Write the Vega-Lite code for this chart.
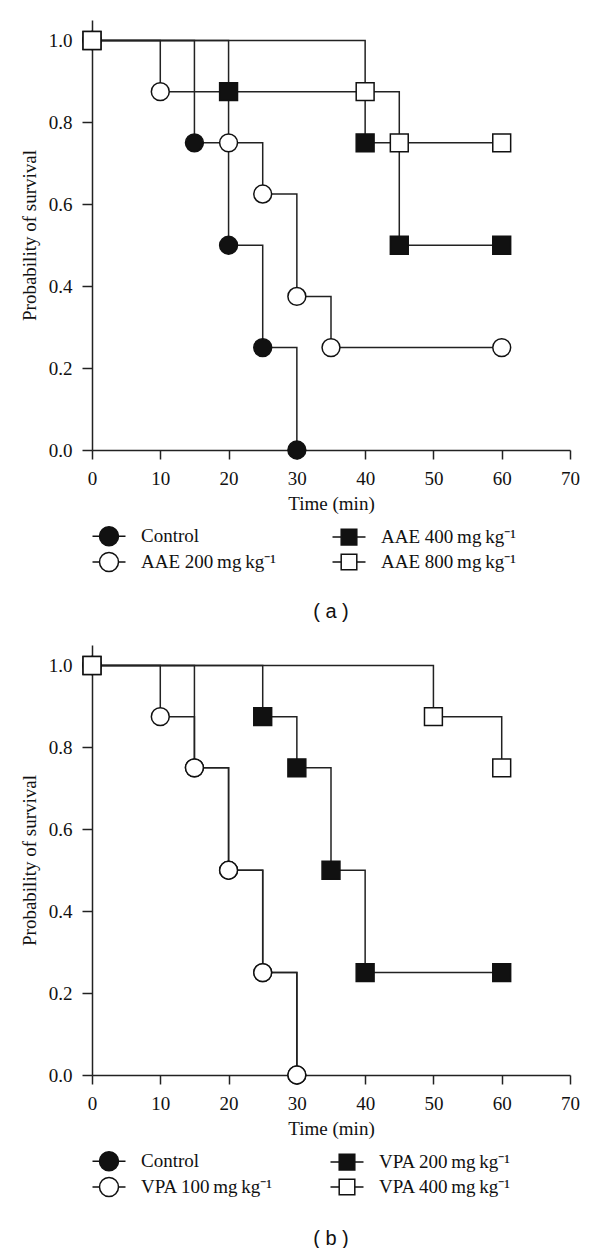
{
  "$schema": "https://vega.github.io/schema/vega-lite/v6.json",
  "background": "white",
  "padding": {"left": 20, "top": 20, "right": 10, "bottom": 0},
  "spacing": 23,
  "config": {
    "view": {"stroke": null},
    "font": "Liberation Serif",
    "axis": {
      "domainColor": "#222", "domainWidth": 1.5, "tickColor": "#222", "tickWidth": 1.5,
      "grid": false, "labelFont": "Liberation Serif", "labelFontSize": 19, "labelColor": "#111",
      "titleFont": "Liberation Serif", "titleFontSize": 19, "titleFontWeight": "normal", "titleColor": "#111",
      "labelPadding": 10, "labelFlush": false, "labelOverlap": false
    },
    "legend": {
      "orient": "bottom", "columns": 2, "direction": "horizontal",
      "labelFont": "Liberation Serif", "labelFontSize": 19, "labelColor": "#111", "labelLimit": 300,
      "labelOffset": 21, "columnPadding": 53, "rowPadding": 0, "symbolSize": 400,
      "symbolStrokeColor": "#111", "symbolStrokeWidth": 1.5, "symbolOpacity": 1,
      "offset": 6, "padding": 6
    },
    "title": {"font": "Liberation Sans", "fontSize": 20, "fontWeight": "normal", "color": "#111"}
  },
  "datasets": {
    "a": [
      {"group": "Control", "time": 0, "surv": 1},
      {"group": "Control", "time": 15, "surv": 0.75},
      {"group": "Control", "time": 20, "surv": 0.5},
      {"group": "Control", "time": 25, "surv": 0.25},
      {"group": "Control", "time": 30, "surv": 0},
      {"group": "AAE 200\u2009mg\u2009kg\u207b\u00b9", "time": 0, "surv": 1},
      {"group": "AAE 200\u2009mg\u2009kg\u207b\u00b9", "time": 10, "surv": 0.875},
      {"group": "AAE 200\u2009mg\u2009kg\u207b\u00b9", "time": 20, "surv": 0.75},
      {"group": "AAE 200\u2009mg\u2009kg\u207b\u00b9", "time": 25, "surv": 0.625},
      {"group": "AAE 200\u2009mg\u2009kg\u207b\u00b9", "time": 30, "surv": 0.375},
      {"group": "AAE 200\u2009mg\u2009kg\u207b\u00b9", "time": 35, "surv": 0.25},
      {"group": "AAE 200\u2009mg\u2009kg\u207b\u00b9", "time": 60, "surv": 0.25},
      {"group": "AAE 400\u2009mg\u2009kg\u207b\u00b9", "time": 0, "surv": 1},
      {"group": "AAE 400\u2009mg\u2009kg\u207b\u00b9", "time": 20, "surv": 0.875},
      {"group": "AAE 400\u2009mg\u2009kg\u207b\u00b9", "time": 40, "surv": 0.75},
      {"group": "AAE 400\u2009mg\u2009kg\u207b\u00b9", "time": 45, "surv": 0.5},
      {"group": "AAE 400\u2009mg\u2009kg\u207b\u00b9", "time": 60, "surv": 0.5},
      {"group": "AAE 800\u2009mg\u2009kg\u207b\u00b9", "time": 0, "surv": 1},
      {"group": "AAE 800\u2009mg\u2009kg\u207b\u00b9", "time": 40, "surv": 0.875},
      {"group": "AAE 800\u2009mg\u2009kg\u207b\u00b9", "time": 45, "surv": 0.75},
      {"group": "AAE 800\u2009mg\u2009kg\u207b\u00b9", "time": 60, "surv": 0.75}
    ],
    "b": [
      {"group": "Control", "time": 0, "surv": 1},
      {"group": "Control", "time": 15, "surv": 0.75},
      {"group": "Control", "time": 20, "surv": 0.5},
      {"group": "Control", "time": 25, "surv": 0.25},
      {"group": "Control", "time": 30, "surv": 0},
      {"group": "VPA 100\u2009mg\u2009kg\u207b\u00b9", "time": 0, "surv": 1},
      {"group": "VPA 100\u2009mg\u2009kg\u207b\u00b9", "time": 10, "surv": 0.875},
      {"group": "VPA 100\u2009mg\u2009kg\u207b\u00b9", "time": 15, "surv": 0.75},
      {"group": "VPA 100\u2009mg\u2009kg\u207b\u00b9", "time": 20, "surv": 0.5},
      {"group": "VPA 100\u2009mg\u2009kg\u207b\u00b9", "time": 25, "surv": 0.25},
      {"group": "VPA 100\u2009mg\u2009kg\u207b\u00b9", "time": 30, "surv": 0},
      {"group": "VPA 200\u2009mg\u2009kg\u207b\u00b9", "time": 0, "surv": 1},
      {"group": "VPA 200\u2009mg\u2009kg\u207b\u00b9", "time": 25, "surv": 0.875},
      {"group": "VPA 200\u2009mg\u2009kg\u207b\u00b9", "time": 30, "surv": 0.75},
      {"group": "VPA 200\u2009mg\u2009kg\u207b\u00b9", "time": 35, "surv": 0.5},
      {"group": "VPA 200\u2009mg\u2009kg\u207b\u00b9", "time": 40, "surv": 0.25},
      {"group": "VPA 200\u2009mg\u2009kg\u207b\u00b9", "time": 60, "surv": 0.25},
      {"group": "VPA 400\u2009mg\u2009kg\u207b\u00b9", "time": 0, "surv": 1},
      {"group": "VPA 400\u2009mg\u2009kg\u207b\u00b9", "time": 50, "surv": 0.875},
      {"group": "VPA 400\u2009mg\u2009kg\u207b\u00b9", "time": 60, "surv": 0.75}
    ]
  },
  "vconcat": [
    {
      "width": 478, "height": 430,
      "data": {"name": "a"},
      "title": {"text": "( a )", "orient": "bottom", "frame": "group", "anchor": "middle", "offset": 21},
      "resolve": {"scale": {"shape": "independent", "fill": "independent"}},
      "layer": [
        {
          "mark": {"type": "line", "interpolate": "step-after", "color": "#222", "strokeWidth": 1.5},
          "encoding": {
            "x": {"field": "time", "type": "quantitative", "scale": {"domain": [0, 70], "nice": false, "zero": false},
                  "axis": {"values": [0, 10, 20, 30, 40, 50, 60, 70], "tickSize": 9, "title": "Time (min)", "titlePadding": 6}},
            "y": {"field": "surv", "type": "quantitative", "scale": {"domain": [0, 1.05], "nice": false},
                  "axis": {"values": [0, 0.2, 0.4, 0.6, 0.8, 1], "format": ".1f", "tickSize": 10, "title": "Probability of survival", "titlePadding": 9}},
            "detail": {"field": "group"}
          }
        },
        {
          "mark": {"type": "point", "filled": true, "stroke": "#111", "strokeWidth": 1.5, "opacity": 1, "size": 320},
          "encoding": {
            "x": {"field": "time", "type": "quantitative"},
            "y": {"field": "surv", "type": "quantitative"},
            "shape": {"field": "group", "type": "nominal", "legend": null,
              "scale": {"domain": ["Control", "AAE 200\u2009mg\u2009kg\u207b\u00b9", "AAE 400\u2009mg\u2009kg\u207b\u00b9", "AAE 800\u2009mg\u2009kg\u207b\u00b9"], "range": ["circle", "circle", "square", "square"]}},
            "fill": {"field": "group", "type": "nominal", "legend": null,
              "scale": {"domain": ["Control", "AAE 200\u2009mg\u2009kg\u207b\u00b9", "AAE 400\u2009mg\u2009kg\u207b\u00b9", "AAE 800\u2009mg\u2009kg\u207b\u00b9"], "range": ["#111", "white", "#111", "white"]}}
          }
        },
        {
          "transform": [{"filter": "datum.time < 0"}],
          "mark": {"type": "point", "filled": true, "stroke": "#111", "strokeWidth": 1.5, "opacity": 1, "size": 400},
          "encoding": {
            "x": {"field": "time", "type": "quantitative"},
            "y": {"field": "surv", "type": "quantitative"},
            "shape": {"field": "group", "type": "nominal",
              "legend": {"title": null, "encode": {"symbols": {"update": {"stroke": {"value": "#111"}, "strokeWidth": {"value": 1.5}}}}},
              "scale": {"domain": ["Control", "AAE 400\u2009mg\u2009kg\u207b\u00b9", "AAE 200\u2009mg\u2009kg\u207b\u00b9", "AAE 800\u2009mg\u2009kg\u207b\u00b9"],
                        "range": ["M-1.65,0H-0.95M0.95,0H1.65M-0.95,0A0.95,0.95,0,1,1,0.95,0A0.95,0.95,0,1,1,-0.95,0Z", "M-1.65,0H-0.78M0.78,0H1.65M-0.78,-0.78H0.78V0.78H-0.78Z", "M-1.65,0H-0.95M0.95,0H1.65M-0.95,0A0.95,0.95,0,1,1,0.95,0A0.95,0.95,0,1,1,-0.95,0Z", "M-1.65,0H-0.78M0.78,0H1.65M-0.78,-0.78H0.78V0.78H-0.78Z"]}},
            "fill": {"field": "group", "type": "nominal",
              "legend": {"title": null, "encode": {"symbols": {"update": {"stroke": {"value": "#111"}, "strokeWidth": {"value": 1.5}}}}},
              "scale": {"domain": ["Control", "AAE 400\u2009mg\u2009kg\u207b\u00b9", "AAE 200\u2009mg\u2009kg\u207b\u00b9", "AAE 800\u2009mg\u2009kg\u207b\u00b9"], "range": ["#111", "#111", "white", "white"]}}
          }
        }
      ]
    },
    {
      "width": 478, "height": 430,
      "data": {"name": "b"},
      "title": {"text": "( b )", "orient": "bottom", "frame": "group", "anchor": "middle", "offset": 23},
      "resolve": {"scale": {"shape": "independent", "fill": "independent"}},
      "layer": [
        {
          "mark": {"type": "line", "interpolate": "step-after", "color": "#222", "strokeWidth": 1.5},
          "encoding": {
            "x": {"field": "time", "type": "quantitative", "scale": {"domain": [0, 70], "nice": false, "zero": false},
                  "axis": {"values": [0, 10, 20, 30, 40, 50, 60, 70], "tickSize": 9, "title": "Time (min)", "titlePadding": 6}},
            "y": {"field": "surv", "type": "quantitative", "scale": {"domain": [0, 1.05], "nice": false},
                  "axis": {"values": [0, 0.2, 0.4, 0.6, 0.8, 1], "format": ".1f", "tickSize": 10, "title": "Probability of survival", "titlePadding": 9}},
            "detail": {"field": "group"}
          }
        },
        {
          "mark": {"type": "point", "filled": true, "stroke": "#111", "strokeWidth": 1.5, "opacity": 1, "size": 320},
          "encoding": {
            "x": {"field": "time", "type": "quantitative"},
            "y": {"field": "surv", "type": "quantitative"},
            "shape": {"field": "group", "type": "nominal", "legend": null,
              "scale": {"domain": ["Control", "VPA 100\u2009mg\u2009kg\u207b\u00b9", "VPA 200\u2009mg\u2009kg\u207b\u00b9", "VPA 400\u2009mg\u2009kg\u207b\u00b9"], "range": ["circle", "circle", "square", "square"]}},
            "fill": {"field": "group", "type": "nominal", "legend": null,
              "scale": {"domain": ["Control", "VPA 100\u2009mg\u2009kg\u207b\u00b9", "VPA 200\u2009mg\u2009kg\u207b\u00b9", "VPA 400\u2009mg\u2009kg\u207b\u00b9"], "range": ["#111", "white", "#111", "white"]}}
          }
        },
        {
          "transform": [{"filter": "datum.time < 0"}],
          "mark": {"type": "point", "filled": true, "stroke": "#111", "strokeWidth": 1.5, "opacity": 1, "size": 400},
          "encoding": {
            "x": {"field": "time", "type": "quantitative"},
            "y": {"field": "surv", "type": "quantitative"},
            "shape": {"field": "group", "type": "nominal",
              "legend": {"title": null, "encode": {"symbols": {"update": {"stroke": {"value": "#111"}, "strokeWidth": {"value": 1.5}}}}},
              "scale": {"domain": ["Control", "VPA 200\u2009mg\u2009kg\u207b\u00b9", "VPA 100\u2009mg\u2009kg\u207b\u00b9", "VPA 400\u2009mg\u2009kg\u207b\u00b9"],
                        "range": ["M-1.65,0H-0.95M0.95,0H1.65M-0.95,0A0.95,0.95,0,1,1,0.95,0A0.95,0.95,0,1,1,-0.95,0Z", "M-1.65,0H-0.78M0.78,0H1.65M-0.78,-0.78H0.78V0.78H-0.78Z", "M-1.65,0H-0.95M0.95,0H1.65M-0.95,0A0.95,0.95,0,1,1,0.95,0A0.95,0.95,0,1,1,-0.95,0Z", "M-1.65,0H-0.78M0.78,0H1.65M-0.78,-0.78H0.78V0.78H-0.78Z"]}},
            "fill": {"field": "group", "type": "nominal",
              "legend": {"title": null, "encode": {"symbols": {"update": {"stroke": {"value": "#111"}, "strokeWidth": {"value": 1.5}}}}},
              "scale": {"domain": ["Control", "VPA 200\u2009mg\u2009kg\u207b\u00b9", "VPA 100\u2009mg\u2009kg\u207b\u00b9", "VPA 400\u2009mg\u2009kg\u207b\u00b9"], "range": ["#111", "#111", "white", "white"]}}
          }
        }
      ]
    }
  ]
}
